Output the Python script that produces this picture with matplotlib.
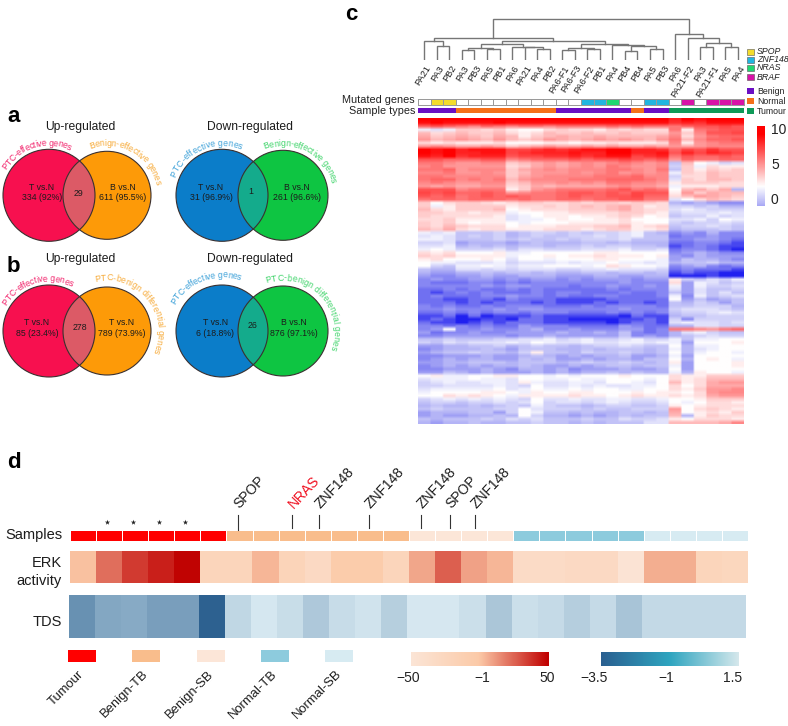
import numpy as np
import matplotlib
matplotlib.use("Agg")
import matplotlib.pyplot as plt
from matplotlib.colors import LinearSegmentedColormap, ListedColormap, TwoSlopeNorm
from matplotlib.patches import Circle, Rectangle
from matplotlib.textpath import text_to_path
from matplotlib.font_manager import FontProperties

plt.rcParams['font.family'] = ['Liberation Sans', 'DejaVu Sans']
W, H = 788, 726
TEXT = '#1c1c1c'

# ---------- panel a / b ----------
venn_titles = ['Up-regulated', 'Down-regulated']
venn_a_up = ['334 (92%)', '29', '611 (95.5%)']
venn_a_down = ['31 (96.9%)', '1', '261 (96.6%)']
venn_b_up = ['85 (23.4%)', '278', '789 (73.9%)']
venn_b_down = ['6 (18.8%)', '26', '876 (97.1%)']

# ---------- panel c ----------
sample_labels = ['PA21', 'PA3', 'PB2', 'PA3', 'PB3', 'PA5', 'PB1', 'PA6', 'PA21', 'PA4', 'PB2',
                 'PA6-F1', 'PA6-F3', 'PA6-F2', 'PB1', 'PA4', 'PB4', 'PB4', 'PA5', 'PB3', 'PA6',
                 'PA21-F2', 'PA3', 'PA21-F1', 'PA5', 'PA4']
# 0 none, 1 SPOP, 2 ZNF148, 3 NRAS, 4 BRAF
mutated = [0, 1, 1, 0, 0, 0, 0, 0, 0, 0, 0, 0, 0, 2, 2, 3, 0, 0, 2, 2, 0, 4, 0, 4, 4, 4]
# 0 Benign, 1 Normal, 2 Tumour
sample_type = [0, 0, 0, 1, 1, 1, 1, 1, 1, 1, 1, 0, 0, 0, 0, 0, 0, 1, 0, 0, 2, 2, 2, 2, 2, 2]
mut_names = ['SPOP', 'ZNF148', 'NRAS', 'BRAF']
mut_colors = ['#f4dc2c', '#22b5e0', '#1fd870', '#d913a8']
type_names = ['Benign', 'Normal', 'Tumour']
type_colors = ['#6a0fc4', '#f5701a', '#0f9a58']
# dendrogram merges: (child, child, height); ids below 26 are leaves, id 26 is the first merge, and so on
merges = [
    (1, 2, 13.3), (0, 26, 18.7),
    (3, 4, 9.3), (5, 6, 10.3), (28, 29, 11.7),
    (9, 10, 10.3), (8, 31, 12.3), (7, 32, 13.0), (30, 33, 15.3),
    (11, 12, 10.0), (13, 14, 10.3), (35, 36, 12.0),
    (16, 17, 8.7), (18, 19, 10.7), (38, 39, 13.3), (15, 40, 14.7), (37, 41, 15.7),
    (34, 42, 19.0), (27, 43, 22.0),
    (22, 23, 12.3), (24, 25, 13.0), (45, 46, 16.3), (21, 47, 21.3), (20, 48, 26.0),
    (44, 49, 41.0),
]
# Letter codes of the heat map: a = -3 ... k = 2 (white) ... z = 9.5, in steps of 0.5
heat_rows = [
    "zzz zzzzzzzzzzzzzzzzz xzyzzz", "yzy yyyzyyyyyyyyyyyyy wxwyyy",
    "tut srtsrssrsssststss stuuvu", "jij nnmnlkkmnmmlnmnmm slstuu",
    "omn onnomlmonnonnonnn qnruuv", "pno ponpolnopoopoooop rmqstt",
    "qop qpoqonoqpopqpqpoq sorttu", "mlm lllmkkkllkllmlllm rlqrss",
    "qrq ppqpnopqppqpqppqp qpqrrr",
    "zyz xyyyvvwxwxyyzzxxw tvuwuu", "zyz xxyyvwxxxyxxzzxxy uxvxwv",
    "yxz wxxxuvvwwxwxyyvwx suttut", "uut ttuurstttutuuvutu qtsstt",
    "ssr qqrrnopqpqrqrsrqr gokjhi", "rsq qqqqmnpqpqrqsrqqr hnjmll",
    "sst qrrrnpqrqrrrssrqs gnlnmn", "rrs qqrqnoqqqrqrsqrqr jnmonn",
    "ssr rrrrnpqrrrrssstrr hmmonn", "stt rsrsoqrrrssstttsr inmoon",
    "rsr qqrrnoqqrqrqssrrq lnnnmm", "qpq ppqqmnpoppppqrqqp jlllmm",
    "uuu rssslnqrsssstusts kopnpf", "vuv ttutqrsstuututvuu lqnpoo",
    "utu stututsstuttuuvtt moqpon", "stt stttstssttsttuuss ikmonm",
    "nkm nnmlmnnmmnmnnmnnm fefedd", "njl nnnnlmmnmnonopnlm hhghff",
    "oml nnnoklmmmnnnopnmm ijihhh", "nnm mlmmjkkllmmmmnnml hiiiji",
    "nmm mmmlijkllkllmnmkl ghhjhi", "mmn llllijjklkkllmkkk iijhkj",
    "nmn lkllkjkkkllllmlkk hghhih", "nmo nmmmklllmmmnnolmn ghhihg",
    "onp mlmmlllmmmlmnnllm fggghg", "jij ggghfghhghghhijgf dedfdd",
    "iji ghghfghgghhihijgg cddedd", "jji ggghghgghghhhiggg ddeedc",
    "hhi efffefgfffggfgfff ccddcb", "iij fgfgfggfgghghhggf bcdcbb",
    "jkj hhhigiihhhiiijhhi cddcba", "mlm kkkljjkkkkkllkkkk defedd",
    "nmn lllljkklkllmlllkl edfeee", "lmk kklkikkjkkkllkkkj egffed",
    "kjj iiijhiiijijjkjjij fgghff", "khg jjkjijjkkkjkmlkkj defdcd",
    "gff iihihiiihhiijiiih cdcccb", "fee ffgfggfgffggfggfg bcbbaa",
    "edd eefeefffeeeffeeff aaabaa", "ded deededeededeeedee lhgihj",
    "dcc cddcdcdddddddeddd mejigh", "ddd ddedeedddcddedded jejhhi",
    "ccd cdccdcdcccccdcddd ieiggh", "cbc dcdcccdcddcccdccd geigig",
    "cdc ccddeddcdccddcccd jdjghi", "ccb bccbdcccbbbbccccc kegefg",
    "ccc bcbcccbcbbbcbccbc gfhgeg", "dcd ccdcdddcccdcddddc gghhhf",
    "dde dddedeeddddddeddd hiiihg", "ccd cdcddcdddcccdcdcd ghhiji",
    "bbc acabbbcbbbbbbacbb fgghhh", "bcb aabbaccbbaaaabbcb hdhhhh",
    "cbb abcbcccbbbbbabccb ijiihi", "ddc dcdccedddccccedcc ffiihh",
    "dek ddeddefddedddeecd ssrqst", "ecd deddeeeefeefegdcd fijhgg",
    "dde eeeedeefeeeeegded fghihh", "ggh ggghhiijhijhhijhh jgjjkk",
    "hgi hiiijikjiijiijjij jekkkl", "eef fgghfghggfghhihgg kfjjkk",
    "def ffgfegggffgfgggfg jfijkk", "efg ghggfhlggfhgghgfg kfjkkj",
    "dde eefeefgfefeffgeef jekkkk", "def effeegfgeefeffegg kfklkj",
    "eef fgggfgggfghgghgfg lekkkl", "def efeffgfeefefggfgg jekkkl",
    "dde eefedffefdeeefeef kekkkk", "eeg fefeeefefeffgfgff jflkkj",
    "klj jkkllkkjkjkkklkkk mllnnn", "ijj jkjjikkjjkjjkkkjk mlmooo",
    "hij iijjiljiijjikkjik olmpqq", "hhi iiijihkiijijiijjk mkmppp",
    "ijj jjjkijkjjkjkkjjkk mlnqqr", "jkk kkllkjlkkllkkklkl lkmqrr",
    "kkm lmlkjllllmllklmll mlmpqq", "hij ijijihkiijiijjiij kklnnn",
    "ghh ghhihikhiihijihhi kjkmml", "fgf fgfghgjhggfghhggh lklmmm",
    "ghg ggghhkihhhghgghhh qkmnml", "eff fggehkjggfgffggfg pklmln",
    "efe effgfkhffefefgfgg oflnmm", "gfg gghgihiggghggihhi lkmmml",
    "fef fgffgghggfgfgggii oooopr",
]
heat_ticks = [10, 5, 0]

# ---------- panel d ----------
group_names = ['Tumour', 'Benign-TB', 'Benign-SB', 'Normal-TB', 'Normal-SB']
group_colors = ['#ff0000', '#f9bd8c', '#fce6d8', '#8dcbdd', '#d7ebf2']
sample_groups = [0] * 6 + [1] * 7 + [2] * 4 + [3] * 5 + [4] * 4
erk_values = [1, 22, 35, 42, 49, -22, -22, 4, -20, -30, -5, -5, -22,
              8, 26, 9, 4, -33, -33, -30, -30, -48, 6, 6, -22, -25]
tds_values = [-1.9, -1.25, -1.12, -1.5, -1.5, -3.4, 0.68, 1.37, 0.94, 0.09, 0.92, 1.2, 0.35,
              1.4, 1.4, 1.04, -0.01, 1.04, 0.85, 0.31, 0.85, -0.1, 0.78, 0.78, 0.78, 0.78]
gene_marks = [('SPOP', 237.7, 'k'), ('NRAS', 291.7, 'r'), ('ZNF148', 318.7, 'k'), ('ZNF148', 368.7, 'k'),
              ('ZNF148', 421, 'k'), ('SPOP', 450, 'k'), ('ZNF148', 475, 'k')]
star_samples = [1, 2, 3, 4]
erk_ticks = ['\u221250', '\u22121', '50']
tds_ticks = ['\u22123.5', '\u22121', '1.5']

# ---------- helpers ----------
fig = plt.figure(figsize=(W / 100, H / 100), dpi=100)
ax = fig.add_axes([0, 0, 1, 1])
ax.set_xlim(0, W)
ax.set_ylim(H, 0)
ax.axis('off')
ax.set_zorder(5)
ax.patch.set_alpha(0)


def sub(x0, y0, x1, y1):
    a = fig.add_axes([x0 / W, 1 - y1 / H, (x1 - x0) / W, (y1 - y0) / H])
    a.axis('off')
    return a


def T(x, y, s, size=6.3, ha='center', va='center', **k):
    k.setdefault('color', TEXT)
    return ax.text(x, y, s, fontsize=size, ha=ha, va=va, **k)


def arc_text(s, cx, cy, r, a0, a1, color, size=6.3):
    fp = FontProperties(family='Liberation Sans', size=size)
    w = np.array([text_to_path.get_text_width_height_descent(ch, fp, False)[0] for ch in s])
    edges = np.concatenate([[0], np.cumsum(w)])
    mids = (edges[:-1] + edges[1:]) / 2 / edges[-1]
    for ch, m in zip(s, mids):
        t = np.radians(a0 + (a1 - a0) * m)
        x = cx + r * np.cos(t)
        y = cy - r * np.sin(t)
        ax.text(x, y, ch, fontsize=size, color=color, ha='center', va='center',
                rotation=np.degrees(t) - 90, rotation_mode='anchor')


def venn(c1, c2, cy, r1, r2, col1, col2, overlap):
    ax.add_patch(Circle((c1, cy), r1, fc=col1, ec='none'))
    ax.add_patch(Circle((c2, cy), r2, fc=col2, ec='none'))
    ov = Circle((c2, cy), r2, fc=overlap, ec='none')
    ax.add_patch(ov)
    ov.set_clip_path(Circle((c1, cy), r1, transform=ax.transData))
    for c, r in ((c1, r1), (c2, r2)):
        ax.add_patch(Circle((c, cy), r, fc='none', ec='#3a3030', lw=0.8))


RED, ORG, OV1 = '#f7104f', '#fd9a08', '#dc5a66'
BLU, GRN, OV2 = '#0b7dc9', '#0ec542', '#14ab8c'
cRED, cORG, cBLU, cGRN = '#f2246c', '#f7ab3a', '#3ba0d8', '#3fd46a'

# ---------- panels a, b ----------
T(7, 116, 'a', size=16, ha='left', weight='bold', color='k')
T(7, 267, 'b', size=16, ha='left', weight='bold', color='k')
T(345, 15, 'c', size=16, ha='left', weight='bold', color='k')
T(7, 462, 'd', size=16, ha='left', weight='bold', color='k')

for y in (127, 259):
    T(80, y, venn_titles[0], size=8.7)
    T(250, y, venn_titles[1], size=8.7)

venn(49, 107, 195.3, 46, 44, RED, ORG, OV1)
venn(222, 283, 195.3, 46, 45, BLU, GRN, OV2)
venn(49, 107, 331, 46, 44, RED, ORG, OV1)
venn(222, 283, 331, 46, 45, BLU, GRN, OV2)

arc_text('PTC-effective genes', 49, 195.3, 52, 149, 65, cRED)
arc_text('Benign-effective genes', 107, 195.3, 52, 110, 12, cORG)
arc_text('PTC-effective genes', 222, 195.3, 52, 159, 67, cBLU)
arc_text('Benign-effective genes', 283, 195.3, 52, 112, 14, cGRN)
arc_text('PTC-effective genes', 49, 331, 52, 149, 63, cRED)
arc_text('PTC-benign differential genes', 107, 331, 53, 103, -25, cORG)
arc_text('PTC-effective genes', 222, 331, 56, 151, 70, cBLU)
arc_text('PTC-benign differential genes', 283, 331, 53, 109, -21, cGRN)

T(42, 187, 'T vs.N'); T(42, 197.5, venn_a_up[0]); T(78, 193, venn_a_up[1]); T(123, 187, 'B vs.N'); T(123, 197.5, venn_a_up[2])
T(211, 187, 'T vs.N'); T(211, 197.5, venn_a_down[0]); T(251, 192, venn_a_down[1]); T(297, 187, 'B vs.N'); T(297, 197.5, venn_a_down[2])
T(37, 322.5, 'T vs.N'); T(37, 333, venn_b_up[0]); T(80, 328, venn_b_up[1]); T(122, 322.5, 'T vs.N'); T(122, 333, venn_b_up[2])
T(216, 322.5, 'T vs.N'); T(215, 333, venn_b_down[0]); T(253, 326, venn_b_down[1]); T(294, 322.5, 'B vs.N'); T(294, 333, venn_b_down[2])

# ---------- panel c : dendrogram ----------
XL, XR = 418, 744
n_col = len(sample_labels)
den = sub(XL, 15, XR, 59.5)
den.set_xlim(0, n_col)
den.set_ylim(0, 44.5)
nodes = {i: (i + 0.5, 0.0) for i in range(n_col)}
for a, b, h in merges:
    xa, ha_ = nodes[a]
    xb, hb = nodes[b]
    den.plot([xa, xa, xb, xb], [ha_, h, h, hb], color='#767676', lw=1.0, solid_joinstyle='miter')
    nodes[len(nodes)] = ((xa + xb) / 2, h)

for i, lab in enumerate(sample_labels):
    T(XL + 12.54 * (i + 0.5) + 1, 64, lab, size=6.6, ha='right', va='top', rotation=58,
      rotation_mode='anchor')

# annotation rows
m_ax = sub(XL, 98.7, XR, 104.7)
m_cmap = ListedColormap(['#ffffff'] + mut_colors)
mesh = m_ax.pcolormesh(np.arange(n_col + 1), [0, 1], np.array([mutated]), cmap=m_cmap, vmin=-0.5, vmax=4.5,
                       edgecolors='#9a9a9a', linewidth=0.7)
mesh.set_clip_on(False)
t_ax = sub(XL, 107.7, XR, 113.3)
t_ax.imshow(np.array([sample_type]), cmap=ListedColormap(type_colors), vmin=-0.5, vmax=2.5,
            aspect='auto', interpolation='nearest')
T(415, 100, 'Mutated genes', size=7.8, ha='right', color='#222222')
T(415, 110.5, 'Sample types', size=7.8, ha='right', color='#222222')

for y, name, col in zip((52, 60, 68, 77), mut_names, mut_colors):
    ax.add_patch(Rectangle((747, y - 3), 7, 6, fc=col, ec='#555555', lw=0.4))
    T(757, y, name, size=6.3, ha='left', style='italic', color='#222222')
for y, name, col in zip((91, 101, 111), type_names, type_colors):
    ax.add_patch(Rectangle((747, y - 3), 7, 6, fc=col, ec='none'))
    T(757, y, name, size=6.3, ha='left', color='#222222')

# heat map
heat = []
for row in heat_rows:
    s = row.replace(' ', '')
    assert len(s) == n_col, row
    heat.append([-3 + 0.5 * (ord(c) - ord('a')) for c in s])
heat = np.array(heat)
heat_cmap = LinearSegmentedColormap.from_list(
    'bwr2', [(0, '#2020f0'), (0.1, '#7272f2'), (0.25, '#b4b4f6'), (0.5, '#ffffff'), (1, '#ff0000')])
heat_norm = TwoSlopeNorm(vmin=-3, vcenter=2, vmax=9.5)
h_ax = sub(XL, 118, XR, 424)
h_ax.imshow(np.repeat(heat, 6, axis=1), cmap=heat_cmap, norm=heat_norm, aspect='auto', interpolation='bilinear')

c_ax = sub(757, 125.7, 765, 205.7)
c_ax.imshow(np.linspace(10.6, -0.8, 200).reshape(-1, 1), cmap=heat_cmap, norm=heat_norm, aspect='auto')
for v in heat_ticks:
    T(771, 200 - 7 * v, str(v), size=10, ha='left', color='#222222')

# ---------- panel d ----------
DL, DR = 70, 748
n_d = len(sample_groups)
s_ax = sub(DL, 530.3, DR, 540.7)
s_ax.pcolormesh(np.arange(n_d + 1), [0, 1], np.array([sample_groups]), cmap=ListedColormap(group_colors),
                vmin=-0.5, vmax=4.5, edgecolors='#ffffff', linewidth=0.4)
s_ax.set_xlim(0, n_d)

erk_cmap = LinearSegmentedColormap.from_list('erk', [(0, '#fbe5d6'), (0.5, '#fccaa8'), (1, '#c00000')])
erk_norm = TwoSlopeNorm(vmin=-50, vcenter=-1, vmax=50)
e_ax = sub(DL, 551.3, DR, 582.7)
e_ax.imshow(np.array([erk_values]), cmap=erk_cmap, norm=erk_norm, aspect='auto', interpolation='nearest')

tds_cmap = LinearSegmentedColormap.from_list('tds', [(0, '#2a5e8e'), (0.5, '#8dafc8'), (1, '#d9eaf2')])
tds_norm = TwoSlopeNorm(vmin=-3.5, vcenter=-1, vmax=1.5)
d_ax = sub(69.3, 595.3, 746, 637.7)
d_ax.imshow(np.array([tds_values]), cmap=tds_cmap, norm=tds_norm, aspect='auto', interpolation='nearest')

T(62, 535, 'Samples', size=10.5, ha='right')
T(62, 563, 'ERK', size=10.5, ha='right')
T(62, 580.5, 'activity', size=10.5, ha='right')
T(62, 622, 'TDS', size=10.5, ha='right')

for name, x, col in gene_marks:
    ax.plot([x, x], [515, 530 if name == 'SPOP' and x < 300 else 528], color='#333333', lw=0.8)
    T(x + 4, 511, name, size=10, ha='left', va='bottom', rotation=47, rotation_mode='anchor',
      color='#f01020' if col == 'r' else TEXT)
cell_w = (DR - DL) / n_d
ax.scatter([DL + cell_w * (i + 0.5) - 2 for i in star_samples], [522] * len(star_samples),
           marker='*', s=16, color='#222222', linewidths=0)

for x0, name, col in zip((68, 132, 197, 261, 325), group_names, group_colors):
    ax.add_patch(Rectangle((x0, 650), 28, 12, fc=col, ec='none'))
    T(x0 + 10, 668, name, size=9.4, ha='right', va='top', rotation=45, rotation_mode='anchor')

b1 = sub(411, 652, 549, 665.7)
b1.imshow(np.linspace(-50, 50, 256).reshape(1, -1), cmap=erk_cmap, norm=erk_norm, aspect='auto')
for x, lab in zip((408, 482, 547), erk_ticks):
    T(x, 678, lab, size=10, color='#222222')

bar_cmap = LinearSegmentedColormap.from_list('tdsbar', [(0, '#2a5f90'), (0.5, '#2fa5c0'), (1, '#d5e8ec')])
b2 = sub(600.7, 652, 738, 665.7)
b2.imshow(np.linspace(0, 1, 256).reshape(1, -1), cmap=bar_cmap, aspect='auto')
for x, lab in zip((594, 666, 733), tds_ticks):
    T(x, 678, lab, size=10, color='#222222')

fig.savefig('out.png', dpi=100)
